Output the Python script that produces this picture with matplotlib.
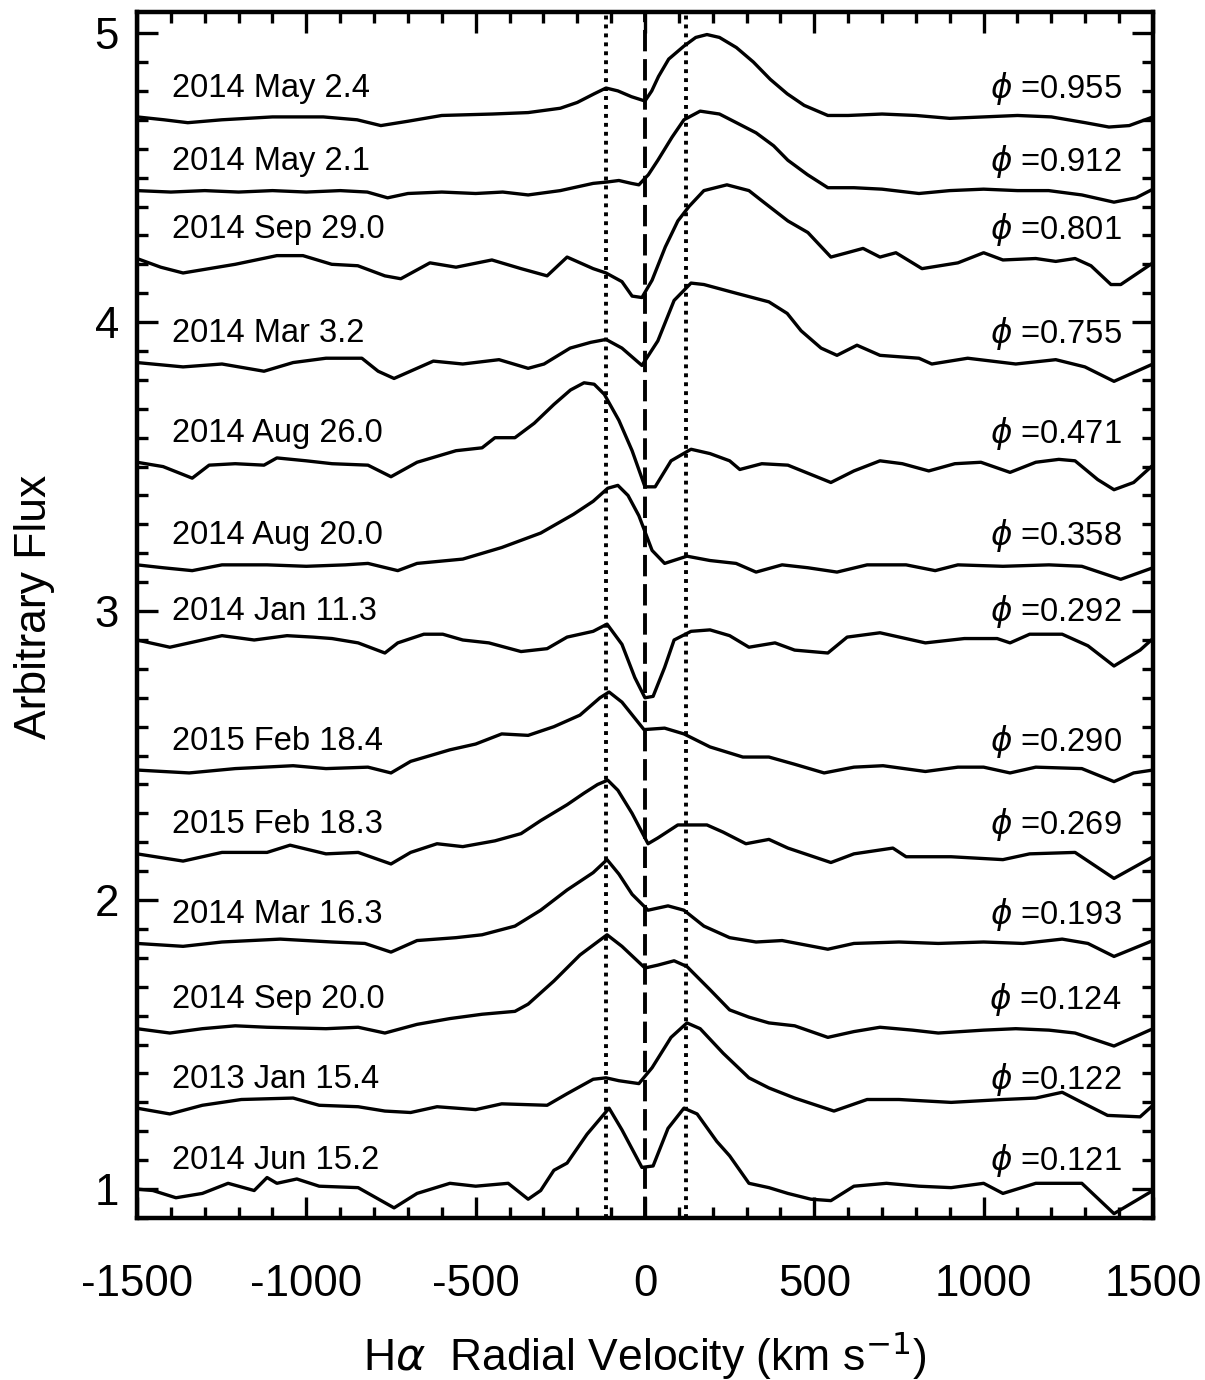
import matplotlib
matplotlib.use("Agg")
import matplotlib.pyplot as plt
from matplotlib.ticker import MultipleLocator

plt.rcParams['font.family'] = ['Liberation Sans', 'DejaVu Sans']
plt.rcParams['mathtext.fontset'] = 'dejavusans'
plt.rcParams['axes.unicode_minus'] = False

# spectra, top to bottom: velocity (km/s) and flux (arbitrary, offset)
v1 = [-1500, -1420, -1350, -1250, -1100, -950, -850, -780, -700, -600, -450, -345, -250, -200, -150, -115, -80, -40, 0,
      20, 40, 70, 115, 150, 183, 220, 270, 320, 370, 420, 470, 540, 600, 700, 800, 900, 1000, 1100, 1200, 1300, 1370, 1430, 1500]
f1 = [4.71, 4.70, 4.69, 4.70, 4.71, 4.71, 4.70, 4.68, 4.695, 4.715, 4.72, 4.725, 4.74, 4.76, 4.79, 4.81, 4.80, 4.78, 4.765,
      4.80, 4.85, 4.91, 4.955, 4.985, 4.995, 4.985, 4.95, 4.90, 4.84, 4.79, 4.75, 4.715, 4.715, 4.72, 4.715, 4.705, 4.71, 4.715, 4.71, 4.69, 4.675, 4.68, 4.71]

v2 = [-1500, -1400, -1300, -1200, -1100, -1000, -900, -820, -760, -700, -600, -500, -420, -345, -250, -153, -110, -77, -40, -18,
      10, 38, 80, 115, 163, 220, 270, 328, 380, 422, 480, 540, 617, 700, 809, 900, 1000, 1100, 1192, 1290, 1385, 1450, 1500]
f2 = [4.455, 4.45, 4.455, 4.45, 4.455, 4.45, 4.455, 4.45, 4.43, 4.445, 4.45, 4.445, 4.45, 4.44, 4.455, 4.48, 4.485, 4.49, 4.48, 4.475,
      4.51, 4.56, 4.64, 4.70, 4.73, 4.72, 4.69, 4.655, 4.61, 4.56, 4.51, 4.465, 4.465, 4.46, 4.445, 4.455, 4.46, 4.455, 4.455, 4.44, 4.415, 4.43, 4.46]

v3 = [-1500, -1430, -1364, -1287, -1210, -1087, -1010, -925, -848, -768, -721, -635, -558, -452, -366, -289, -230, -153, -115, -68,
      -38, -9, 21, 60, 97, 130, 174, 242, 307, 345, 422, 481, 549, 597, 644, 694, 741, 818, 924, 1000,
      1057, 1154, 1213, 1270, 1317, 1376, 1405, 1500]
f3 = [4.22, 4.19, 4.17, 4.185, 4.20, 4.23, 4.23, 4.20, 4.195, 4.16, 4.15, 4.205, 4.19, 4.215, 4.185, 4.16, 4.225, 4.185, 4.17, 4.14,
      4.09, 4.085, 4.145, 4.26, 4.35, 4.40, 4.455, 4.475, 4.455, 4.42, 4.35, 4.31, 4.225, 4.24, 4.255, 4.225, 4.24, 4.185, 4.205, 4.24,
      4.215, 4.22, 4.21, 4.22, 4.195, 4.13, 4.13, 4.205]

v4 = [-1500, -1364, -1249, -1125, -1039, -942, -836, -788, -741, -625, -538, -431, -345, -298, -221, -160, -115, -68, -9, 38,
      86, 136, 174, 269, 366, 420, 461, 520, 567, 626, 694, 809, 847, 953, 1095, 1213, 1299, 1385, 1500]
f4 = [3.86, 3.845, 3.855, 3.83, 3.86, 3.875, 3.875, 3.83, 3.805, 3.865, 3.855, 3.87, 3.84, 3.855, 3.91, 3.93, 3.94, 3.91, 3.85, 3.935,
      4.075, 4.135, 4.13, 4.10, 4.07, 4.03, 3.97, 3.91, 3.885, 3.92, 3.885, 3.875, 3.855, 3.875, 3.855, 3.87, 3.845, 3.795, 3.855]

v5 = [-1500, -1423, -1337, -1287, -1210, -1125, -1087, -1000, -924, -818, -750, -673, -558, -481, -443, -384, -327, -269, -220, -180,
      -150, -120, -77, -38, 0, 30, 77, 136, 192, 250, 280, 345, 422, 549, 617, 694, 760, 838, 915, 992,
      1078, 1154, 1222, 1270, 1337, 1385, 1443, 1500]
f5 = [3.515, 3.50, 3.46, 3.505, 3.51, 3.505, 3.53, 3.52, 3.51, 3.505, 3.465, 3.515, 3.555, 3.565, 3.60, 3.60, 3.65, 3.715, 3.765, 3.79,
      3.785, 3.75, 3.66, 3.555, 3.43, 3.43, 3.52, 3.56, 3.545, 3.52, 3.49, 3.51, 3.505, 3.445, 3.485, 3.52, 3.51, 3.485, 3.51, 3.515,
      3.48, 3.515, 3.525, 3.52, 3.455, 3.42, 3.445, 3.505]

v6 = [-1500, -1423, -1337, -1249, -1116, -1000, -885, -818, -730, -673, -538, -423, -308, -211, -153, -110, -80, -50, -18, 21,
      58, 124, 192, 269, 328, 405, 481, 567, 656, 771, 857, 924, 1057, 1193, 1290, 1405, 1500]
f6 = [3.16, 3.15, 3.14, 3.16, 3.16, 3.155, 3.16, 3.165, 3.14, 3.165, 3.18, 3.22, 3.27, 3.335, 3.38, 3.425, 3.435, 3.40, 3.33, 3.21,
      3.165, 3.19, 3.175, 3.165, 3.135, 3.16, 3.15, 3.135, 3.16, 3.16, 3.14, 3.16, 3.155, 3.16, 3.155, 3.11, 3.15]

v7 = [-1500, -1403, -1249, -1154, -1057, -981, -924, -847, -768, -730, -653, -597, -538, -461, -366, -289, -230, -153, -112, -68,
      -30, 0, 24, 58, 86, 136, 192, 250, 307, 384, 442, 540, 597, 694, 828, 943, 1040, 1078, 1136, 1232, 1308, 1385, 1462, 1500]
f7 = [2.90, 2.875, 2.915, 2.90, 2.915, 2.91, 2.905, 2.89, 2.855, 2.89, 2.92, 2.92, 2.90, 2.89, 2.86, 2.87, 2.91, 2.93, 2.955, 2.885,
      2.77, 2.70, 2.705, 2.805, 2.90, 2.93, 2.935, 2.915, 2.875, 2.89, 2.865, 2.855, 2.91, 2.925, 2.89, 2.905, 2.905, 2.89, 2.92, 2.92,
      2.88, 2.81, 2.865, 2.905]

v8 = [-1500, -1346, -1210, -1039, -942, -818, -750, -692, -576, -500, -423, -345, -269, -192, -133, -106, -68, -3, 58, 115,
      192, 289, 366, 442, 529, 617, 703, 828, 924, 1000, 1078, 1154, 1290, 1385, 1443, 1500]
f8 = [2.45, 2.44, 2.455, 2.465, 2.455, 2.46, 2.44, 2.48, 2.52, 2.54, 2.575, 2.57, 2.60, 2.64, 2.70, 2.72, 2.685, 2.59, 2.595, 2.575,
      2.53, 2.495, 2.495, 2.47, 2.44, 2.46, 2.465, 2.445, 2.46, 2.46, 2.44, 2.46, 2.455, 2.41, 2.44, 2.45]

v9 = [-1500, -1364, -1249, -1116, -1048, -942, -847, -750, -692, -614, -538, -443, -366, -308, -230, -180, -140, -110, -80, -38,
      9, 38, 97, 183, 231, 298, 366, 422, 549, 617, 732, 771, 904, 1057, 1136, 1270, 1385, 1500]
f9 = [2.16, 2.135, 2.165, 2.165, 2.19, 2.16, 2.165, 2.125, 2.165, 2.195, 2.185, 2.205, 2.23, 2.275, 2.33, 2.37, 2.40, 2.415, 2.38, 2.30,
      2.195, 2.215, 2.26, 2.26, 2.235, 2.195, 2.21, 2.18, 2.13, 2.16, 2.18, 2.15, 2.15, 2.14, 2.16, 2.165, 2.075, 2.15]

v10 = [-1500, -1364, -1249, -1077, -924, -827, -750, -673, -558, -481, -384, -308, -230, -153, -112, -77, -38, 9, 68, 115,
       174, 250, 328, 405, 540, 617, 750, 866, 1000, 1116, 1232, 1308, 1385, 1500]
f10 = [1.85, 1.84, 1.855, 1.865, 1.855, 1.85, 1.82, 1.86, 1.87, 1.88, 1.91, 1.965, 2.035, 2.095, 2.14, 2.09, 2.02, 1.965, 1.98, 1.965,
       1.91, 1.87, 1.855, 1.86, 1.83, 1.85, 1.855, 1.85, 1.855, 1.85, 1.865, 1.85, 1.805, 1.86]

v11 = [-1500, -1403, -1307, -1210, -1116, -942, -847, -768, -673, -576, -481, -384, -345, -269, -192, -112, -68, 0, 38, 86,
       124, 192, 250, 307, 366, 442, 540, 617, 694, 790, 866, 1000, 1095, 1193, 1270, 1385, 1500]
f11 = [1.555, 1.54, 1.555, 1.565, 1.56, 1.555, 1.56, 1.54, 1.57, 1.59, 1.605, 1.615, 1.64, 1.72, 1.81, 1.88, 1.84, 1.765, 1.775, 1.79,
       1.77, 1.69, 1.62, 1.595, 1.575, 1.565, 1.525, 1.545, 1.56, 1.55, 1.54, 1.55, 1.555, 1.55, 1.54, 1.495, 1.555]

v12 = [-1500, -1403, -1307, -1192, -1039, -962, -847, -768, -692, -614, -500, -423, -289, -230, -153, -115, -77, -18, 21, 77,
       124, 163, 231, 307, 366, 442, 558, 656, 750, 904, 1057, 1154, 1232, 1290, 1366, 1462, 1500]
f12 = [1.28, 1.26, 1.29, 1.31, 1.315, 1.29, 1.285, 1.27, 1.265, 1.285, 1.275, 1.295, 1.29, 1.33, 1.38, 1.385, 1.375, 1.365, 1.42, 1.525,
       1.575, 1.555, 1.47, 1.385, 1.35, 1.315, 1.27, 1.31, 1.31, 1.30, 1.31, 1.315, 1.335, 1.30, 1.255, 1.25, 1.29]

v13 = [-1500, -1453, -1385, -1307, -1231, -1154, -1116, -1087, -1028, -962, -847, -741, -673, -576, -500, -404, -345, -308, -269, -230,
       -171, -106, -68, -9, 24, 68, 115, 154, 212, 250, 307, 366, 422, 490, 549, 617, 713, 809, 904, 1000,
       1057, 1154, 1290, 1385, 1500]
f13 = [1.00, 0.995, 0.97, 0.985, 1.02, 0.995, 1.04, 1.02, 1.035, 1.01, 1.005, 0.935, 0.985, 1.02, 1.01, 1.02, 0.965, 0.995, 1.065, 1.09,
       1.19, 1.28, 1.205, 1.075, 1.08, 1.21, 1.28, 1.26, 1.165, 1.115, 1.02, 1.005, 0.985, 0.965, 0.96, 1.01, 1.02, 1.01, 1.005, 1.02,
       0.985, 1.02, 1.02, 0.915, 0.995]

dates = ["2014 May 2.4", "2014 May 2.1", "2014 Sep 29.0", "2014 Mar 3.2", "2014 Aug 26.0", "2014 Aug 20.0",
         "2014 Jan 11.3", "2015 Feb 18.4", "2015 Feb 18.3", "2014 Mar 16.3", "2014 Sep 20.0", "2013 Jan 15.4",
         "2014 Jun 15.2"]
phases = ["0.955", "0.912", "0.801", "0.755", "0.471", "0.358", "0.292", "0.290", "0.269", "0.193", "0.124",
          "0.122", "0.121"]
vels = [v1, v2, v3, v4, v5, v6, v7, v8, v9, v10, v11, v12, v13]
fluxes = [f1, f2, f3, f4, f5, f6, f7, f8, f9, f10, f11, f12, f13]

v_dotted = [-115, 120]
v_dashed = 0

fig = plt.figure(figsize=(12.05, 13.8), dpi=100)
ax = fig.add_axes([0.1137, 0.1174, 0.8431, 0.8739])

for d, ph, v, f in zip(dates, phases, vels, fluxes):
    ax.plot(v, f, color="k", lw=2.4, solid_joinstyle="round")
    ax.text(-1397, f[0] + 0.1, d, fontsize=23.5, ha="left", va="center")
    ax.text(1408, f[0] + 0.1, r"$\phi$ =" + ph, fontsize=23.5, ha="right", va="center")

for vd in v_dotted:
    ax.axvline(vd, color="k", lw=2.8, ls=(0, (1.0, 1.3)))
ax.axvline(v_dashed, color="k", lw=2.8, ls=(0, (5.5, 2)))

ax.set_xlim(-1500, 1500)
ax.set_ylim(0.9, 5.073)
ax.xaxis.set_major_locator(MultipleLocator(500))
ax.xaxis.set_minor_locator(MultipleLocator(100))
ax.yaxis.set_major_locator(MultipleLocator(1))
ax.yaxis.set_minor_locator(MultipleLocator(0.1))
ax.tick_params(which="both", direction="in", top=True, right=True, width=2.4, labelsize=31.5)
ax.tick_params(which="major", length=15)
ax.tick_params(which="minor", length=8)
ax.tick_params(axis="x", pad=33)
ax.tick_params(axis="y", pad=13)
for s in ax.spines.values():
    s.set_linewidth(3.2)

fig.text(0.029, 0.56, "Arbitrary Flux", rotation=90, fontsize=32, ha="center", va="center")
fig.text(0.535, 0.018, r"H$\alpha$  Radial Velocity (km s$^{-1}$)", fontsize=32, ha="center", va="center")

fig.savefig("out.png", dpi=100)
